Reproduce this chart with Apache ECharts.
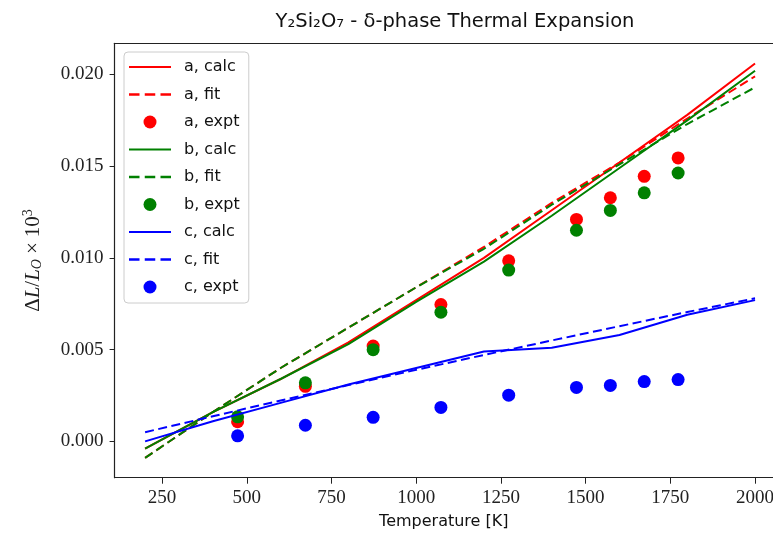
<!DOCTYPE html>
<html><head><meta charset="utf-8">
<script src="https://cdn.jsdelivr.net/npm/echarts@6/dist/echarts.min.js"></script>
<style>html,body{margin:0;padding:0;background:#fff}#c{width:773px;height:540px}</style>
</head><body><div id="c"></div>
<script>
// Temperatures (K)
const tCalc = [200, 400, 600, 800, 1000, 1200, 1400, 1600, 1800, 2000];
const tExpt = [473, 673, 873, 1073, 1273, 1473, 1573, 1673, 1773];
// a axis
const aCalc = [-0.0004, 0.0016, 0.0034, 0.0054, 0.0077, 0.0100, 0.0126, 0.0152, 0.0178, 0.0206];
const aFit  = [-0.0009, 0.0016, 0.0040, 0.0062, 0.0084, 0.0106, 0.0130, 0.0152, 0.0176, 0.0199];
const aExpt = [0.00107, 0.0030, 0.0052, 0.00746, 0.00984, 0.01210, 0.01328, 0.01445, 0.01545];
// b axis
const bCalc = [-0.0004, 0.0016, 0.0034, 0.0053, 0.0076, 0.0098, 0.0123, 0.0149, 0.0175, 0.0202];
const bFit  = [-0.0009, 0.0016, 0.0040, 0.0062, 0.0084, 0.0105, 0.0129, 0.0151, 0.0173, 0.0193];
const bExpt = [0.00134, 0.00319, 0.00500, 0.00704, 0.00934, 0.01151, 0.01259, 0.01355, 0.01463];
// c axis
const cCalc = [0.0000, 0.0011, 0.0021, 0.0031, 0.0040, 0.0049, 0.0051, 0.0058, 0.0069, 0.0077];
const cFit  = [0.0005, 0.00137, 0.00223, 0.00307, 0.00390, 0.00471, 0.00550, 0.00628, 0.00705, 0.0078];
const cExpt = [0.00030, 0.00088, 0.00131, 0.00185, 0.00252, 0.00294, 0.00305, 0.00326, 0.00337];
// ticks
const xTicks = [250, 500, 750, 1000, 1250, 1500, 1750, 2000];
const yTicks = [0, 0.005, 0.010, 0.015, 0.020];

const zip = (xs, ys) => xs.map((x, i) => [x, ys[i]]);
const RED = '#ff0000', GREEN = '#008000', BLUE = '#0000ff';
const dash = [9, 4.5];
const ICON_SOLID = 'path://M0,0h42v2h-42z';
const ICON_DASH = 'path://M0,0h9v2h-9zM13.5,0h9v2h-9zM27,0h9v2h-9z';
let z = 2;
const legendData = [];
function lineS(name, ys, color, dashed) {
  legendData.push({ name, icon: dashed ? ICON_DASH : ICON_SOLID });
  return { name, type: 'line', data: zip(tCalc, ys), symbol: 'none', z: z++,
    lineStyle: { color, width: 2, type: dashed ? dash : 'solid' }, itemStyle: { color }, animation: false };
}
function scatS(name, ys, color) {
  legendData.push({ name, icon: 'circle' });
  return { name, type: 'scatter', data: zip(tExpt, ys), symbol: 'circle', symbolSize: 13, z: z++,
    itemStyle: { color, opacity: 1 }, animation: false };
}
const series = [
  lineS('a, calc', aCalc, RED, false), lineS('a, fit', aFit, RED, true), scatS('a, expt', aExpt, RED),
  lineS('b, calc', bCalc, GREEN, false), lineS('b, fit', bFit, GREEN, true), scatS('b, expt', bExpt, GREEN),
  lineS('c, calc', cCalc, BLUE, false), lineS('c, fit', cFit, BLUE, true), scatS('c, expt', cExpt, BLUE)
];
const serif = '"Liberation Serif", "DejaVu Serif", serif';
const sans = '"DejaVu Sans", sans-serif';
const chart = echarts.init(document.getElementById('c'), null, { renderer: 'canvas' });
chart.setOption({
  animation: false,
  backgroundColor: '#fff',
  title: { text: 'Y₂Si₂O₇ - δ-phase Thermal Expansion', left: 450, top: 7, textAlign: 'center',
    textStyle: { fontFamily: sans, fontSize: 19.5, fontWeight: 'normal', color: '#111' } },
  grid: { left: 114.6, top: 43.3, right: 0, bottom: 62.3, show: false, containLabel: false, outerBoundsMode: 'none' },
  legend: {
    orient: 'vertical', left: 124, top: 52, itemWidth: 42, itemHeight: 13, itemGap: 11.5,
    padding: [7, 9, 8, 5], borderColor: '#ccc', borderWidth: 1, borderRadius: 4, backgroundColor: '#fff',
    textStyle: { fontFamily: sans, fontSize: 16, color: '#111', padding: [0, 0, 0, 8] },
    data: legendData
  },
  xAxis: [{
    type: 'value', min: 110, max: 2053,
    name: 'Temperature [K]', nameLocation: 'middle', nameGap: 36,
    nameTextStyle: { fontFamily: sans, fontSize: 16, color: '#111' },
    axisLine: { show: true, onZero: false, lineStyle: { color: '#222', width: 1.2 } },
    axisTick: { show: true, length: 6, lineStyle: { color: '#222' }, customValues: xTicks },
    axisLabel: { customValues: xTicks, fontFamily: serif, fontSize: 19, color: '#222', margin: 11,
      formatter: v => String(v) },
    splitLine: { show: false }
  }, {
    type: 'value', position: 'top', min: 110, max: 2053,
    axisLine: { show: true, onZero: false, lineStyle: { color: '#222', width: 1.2 } },
    axisTick: { show: false }, axisLabel: { show: false }, splitLine: { show: false }
  }],
  yAxis: {
    type: 'value', min: -0.00198, max: 0.0217,
    name: '{a|Δ}{i|L}{a|/}{i|L}{s|O}{x|×}{a|10}{p|3}', nameLocation: 'middle', nameGap: 70, nameRotate: 90,
    nameTextStyle: { fontFamily: serif, fontSize: 21, color: '#222',
      rich: {
        a: { fontFamily: serif, fontSize: 21, color: '#222' },
        x: { fontFamily: serif, fontSize: 21, color: '#222', padding: [0, 5, 0, 5] },
        i: { fontFamily: serif, fontSize: 21, fontStyle: 'italic', color: '#222' },
        s: { fontFamily: serif, fontSize: 14, fontStyle: 'italic', color: '#222', padding: [9, 0, 0, 0] },
        p: { fontFamily: serif, fontSize: 14, color: '#222', padding: [0, 0, 9, 0] }
      } },
    axisLine: { show: true, onZero: false, lineStyle: { color: '#222', width: 1.2 } },
    axisTick: { show: true, length: 5, lineStyle: { color: '#222' }, customValues: yTicks },
    axisLabel: { customValues: yTicks, fontFamily: serif, fontSize: 19, color: '#222', margin: 11,
      formatter: v => v.toFixed(3) },
    splitLine: { show: false }
  },
  series
});
</script></body></html>
